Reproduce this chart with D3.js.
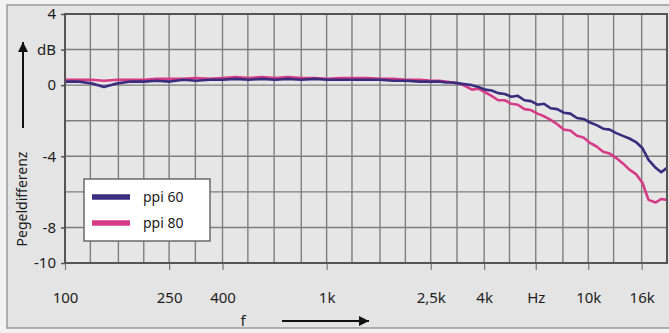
<!DOCTYPE html>
<html>
<head>
<meta charset="utf-8">
<script src="https://cdn.jsdelivr.net/npm/d3@7"></script>
<style>
  html, body { margin: 0; padding: 0; background: #f2f2f2; }
  svg { display: block; }
  text { font-family: "Noto Sans", "DejaVu Sans", sans-serif; fill: #1c1c1c; }
</style>
</head>
<body>
<svg id="chart" width="669" height="333"></svg>
<script>
// Frequency points (Hz): 1/6-octave below 2.5 kHz, 1/12-octave above
const freqs = [100, 112, 126, 141, 159, 178, 200, 224, 252, 283, 317, 356, 400, 449, 504, 566, 635, 713,
  800, 898, 1008, 1131, 1270, 1425, 1600, 1796, 2016, 2263,
  2540, 2691, 2851, 3020, 3200, 3390, 3592, 3805, 4032, 4271, 4525, 4794, 5080, 5382, 5702, 6041,
  6400, 6781, 7184, 7611, 8063, 8543, 9051, 9589, 10159, 10763, 11404, 12082, 12800, 13561, 14368,
  15222, 16127, 17000, 18102, 19000, 20000];

// Level difference in dB
const ppi60 = [0.2, 0.2, 0.1, -0.1, 0.1, 0.2, 0.2, 0.25, 0.2, 0.3, 0.25, 0.3, 0.3, 0.35, 0.3, 0.35, 0.3, 0.35,
  0.3, 0.35, 0.3, 0.3, 0.3, 0.3, 0.3, 0.25, 0.25, 0.2,
  0.2, 0.2, 0.15, 0.15, 0.1, 0.05, 0.0, -0.1, -0.25, -0.3, -0.45, -0.5, -0.65, -0.6, -0.85, -0.9,
  -1.1, -1.05, -1.3, -1.35, -1.55, -1.6, -1.85, -1.9, -2.1, -2.25, -2.45, -2.5, -2.7, -2.85, -3.0,
  -3.2, -3.55, -4.2, -4.65, -4.9, -4.65];

const ppi80 = [0.3, 0.3, 0.3, 0.25, 0.3, 0.3, 0.3, 0.35, 0.35, 0.35, 0.4, 0.35, 0.4, 0.45, 0.4, 0.45, 0.4, 0.45,
  0.4, 0.4, 0.35, 0.4, 0.4, 0.4, 0.35, 0.35, 0.3, 0.3,
  0.25, 0.25, 0.2, 0.15, 0.1, -0.05, -0.25, -0.2, -0.4, -0.6, -0.85, -0.85, -1.05, -1.1, -1.35, -1.4,
  -1.6, -1.75, -1.95, -2.2, -2.5, -2.55, -2.85, -2.95, -3.25, -3.45, -3.75, -3.85, -4.1, -4.4, -4.75,
  -5.0, -5.5, -6.45, -6.6, -6.4, -6.45];

const series = [
  { name: "ppi 60", values: ppi60, color: "#3b2d7e" },
  { name: "ppi 80", values: ppi80, color: "#d63c86" }
];

const xTickValues = [100, 250, 400, 1000, 2500, 4000, 6300, 10000, 16000];
const xTickLabels = ["100", "250", "400", "1k", "2,5k", "4k", "Hz", "10k", "16k"];
const xGridValues = [125, 160, 200, 250, 315, 400, 500, 630, 800, 1000, 1250, 1600, 2000, 2500,
  3150, 4000, 5000, 6300, 8000, 10000, 12500, 16000];

const yTickValues = [4, 2, 0, -4, -8, -10];
const yTickLabels = ["4", "dB", "0", "-4", "-8", "-10"];
const yGridValues = [2, 0, -2, -4, -6, -8];

const svg = d3.select("#chart");
const W = 669;
const plot = { left: 65, top: 14, right: 667, bottom: 263 };

// outer panel
svg.append("rect")
  .attr("x", 7).attr("y", 5).attr("width", W).attr("height", 323)
  .attr("fill", "#e4e4e4").attr("stroke", "#9a9a9a").attr("stroke-width", 1.5);

const x = d3.scaleLog().domain([100, 20000]).range([plot.left, plot.right]);
const y = d3.scaleLinear().domain([-10, 4]).range([plot.bottom, plot.top]);

// plot background
svg.append("rect")
  .attr("x", plot.left).attr("y", plot.top)
  .attr("width", plot.right - plot.left).attr("height", plot.bottom - plot.top)
  .attr("fill", "#e6e6e6");

// grid
const grid = svg.append("g").attr("stroke", "#7e7e7e").attr("stroke-width", 1.4);
grid.selectAll("line.v").data(xGridValues).join("line")
  .attr("x1", d => x(d)).attr("x2", d => x(d))
  .attr("y1", plot.top).attr("y2", plot.bottom);
grid.selectAll("line.h").data(yGridValues).join("line")
  .attr("x1", plot.left).attr("x2", plot.right)
  .attr("y1", d => y(d)).attr("y2", d => y(d));

// x axis ticks and labels
const xAxis = d3.axisBottom(x).tickValues(xTickValues)
  .tickFormat((d, i) => xTickLabels[i]).tickSize(7).tickPadding(22);
const gx = svg.append("g").attr("transform", `translate(0,${plot.bottom})`).call(xAxis);
gx.select(".domain").remove();
gx.selectAll(".tick line").attr("stroke", "#777").attr("stroke-width", 1.2);
gx.selectAll(".tick text").attr("font-size", 15).attr("fill", "#1c1c1c")
  .attr("font-family", "'Noto Sans', sans-serif");

// y axis ticks and labels
const yAxis = d3.axisLeft(y).tickValues(yTickValues)
  .tickFormat((d, i) => yTickLabels[i]).tickSize(4).tickPadding(5);
const gy = svg.append("g").attr("transform", `translate(${plot.left},0)`).call(yAxis);
gy.select(".domain").remove();
gy.selectAll(".tick line").attr("stroke", "#555").attr("stroke-width", 1.5);
gy.selectAll(".tick text").attr("font-size", 15).attr("fill", "#1c1c1c")
  .attr("font-family", "'Noto Sans', sans-serif");

// curves
const line = d3.line()
  .x((d, i) => x(freqs[i]))
  .y(d => y(d));
svg.append("g").selectAll("path").data(series.slice().reverse()).join("path")
  .attr("d", s => line(s.values))
  .attr("fill", "none")
  .attr("stroke", s => s.color)
  .attr("stroke-width", 2.6)
  .attr("stroke-linejoin", "round");

// plot frame
svg.append("rect")
  .attr("x", plot.left).attr("y", plot.top)
  .attr("width", plot.right - plot.left).attr("height", plot.bottom - plot.top)
  .attr("fill", "none").attr("stroke", "#555").attr("stroke-width", 2);

// legend
const lg = svg.append("g").attr("transform", "translate(84,179)");
lg.append("rect").attr("width", 126).attr("height", 62)
  .attr("fill", "#ffffff").attr("stroke", "#6a6a6a").attr("stroke-width", 1.5);
const items = lg.selectAll("g.item").data(series).join("g")
  .attr("transform", (d, i) => `translate(0,${18 + i * 26})`);
items.append("line").attr("x1", 8).attr("x2", 46)
  .attr("stroke", d => d.color).attr("stroke-width", 5.5);
items.append("text").attr("x", 59).attr("dy", "0.35em")
  .attr("font-size", 14).text(d => d.name);

// axis titles with arrows
const arrow = svg.append("defs").append("marker")
  .attr("id", "arrowhead").attr("viewBox", "0 0 10 10")
  .attr("refX", 10).attr("refY", 5)
  .attr("markerWidth", 5).attr("markerHeight", 5)
  .attr("markerUnits", "strokeWidth").attr("orient", "auto");
arrow.append("path").attr("d", "M0,0 L10,5 L0,10 Z").attr("fill", "#111");

svg.append("line").attr("x1", 23).attr("x2", 23).attr("y1", 128).attr("y2", 42)
  .attr("stroke", "#111").attr("stroke-width", 2).attr("marker-end", "url(#arrowhead)");
svg.append("text")
  .attr("transform", "translate(27,199) rotate(-90)")
  .attr("text-anchor", "middle").attr("font-size", 14)
  .text("Pegeldifferenz");

svg.append("text").attr("x", 243).attr("y", 326).attr("text-anchor", "middle")
  .attr("font-size", 15).text("f");
svg.append("line").attr("x1", 282).attr("x2", 369).attr("y1", 321).attr("y2", 321)
  .attr("stroke", "#111").attr("stroke-width", 2).attr("marker-end", "url(#arrowhead)");
</script>
</body>
</html>
